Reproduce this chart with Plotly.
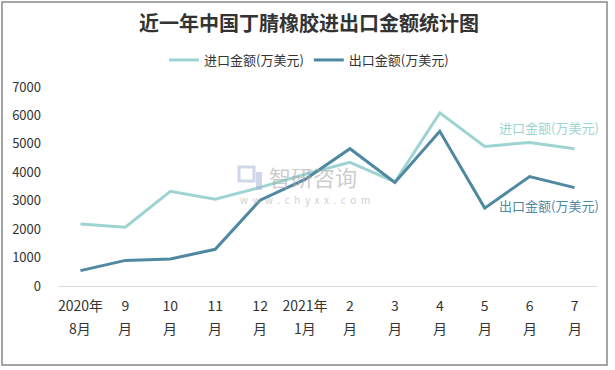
import plotly.graph_objects as go

months_top = ["2020年", "9", "10", "11", "12", "2021年", "2", "3", "4", "5", "6", "7"]
months_bottom = ["8月", "月", "月", "月", "月", "1月", "月", "月", "月", "月", "月", "月"]
categories = ["2020-08", "2020-09", "2020-10", "2020-11", "2020-12", "2021-01",
              "2021-02", "2021-03", "2021-04", "2021-05", "2021-06", "2021-07"]
import_vals = [2180, 2070, 3330, 3050, 3470, 3930, 4350, 3660, 6090, 4910, 5050, 4830]
export_vals = [540, 900, 950, 1290, 3020, 3750, 4830, 3640, 5440, 2740, 3850, 3460]
y_ticks = [0, 1000, 2000, 3000, 4000, 5000, 6000, 7000]

IMP = "#9dd4d1"
EXP = "#4f88a1"
TXT = "#333333"
FONT = "Noto Sans CJK SC"

# plot area in pixels
L, R, T, B = 58, 597, 87, 286
W, H = R - L, B - T


def px(x):
    return (x - L) / W


def py(y):
    return (B - y) / H


fig = go.Figure()
fig.add_trace(go.Scatter(x=categories, y=import_vals, mode="lines", name="进口金额(万美元)",
                         line=dict(color=IMP, width=3)))
fig.add_trace(go.Scatter(x=categories, y=export_vals, mode="lines", name="出口金额(万美元)",
                         line=dict(color=EXP, width=3)))

annotations = []
for c, b in zip(categories, months_bottom):
    annotations.append(dict(x=c, xref="x", y=py(328), yref="paper", text=b, showarrow=False,
                            font=dict(size=14, color=TXT, family=FONT), yanchor="middle"))

annotations.append(dict(x=px(497), xref="paper", y=py(127), yref="paper", text="进口金额(万美元)",
                        showarrow=False, xanchor="left", yanchor="middle",
                        font=dict(size=13, color=IMP, family=FONT)))
annotations.append(dict(x=px(497), xref="paper", y=py(205), yref="paper", text="出口金额(万美元)",
                        showarrow=False, xanchor="left", yanchor="middle",
                        font=dict(size=13, color=EXP, family=FONT)))
# watermark
annotations.append(dict(x=px(267), xref="paper", y=py(176), yref="paper", text="智研咨询",
                        showarrow=False, xanchor="left", yanchor="middle",
                        font=dict(size=22, color="rgba(170,170,170,0.6)", family=FONT)))
wm_url = "&nbsp;&nbsp;".join(list("www.chyxx.com"))
annotations.append(dict(x=px(238), xref="paper", y=py(199), yref="paper",
                        text=wm_url, showarrow=False,
                        xanchor="left", yanchor="middle",
                        font=dict(size=10, color="rgba(170,170,170,0.6)", family=FONT)))

shapes = [
    dict(type="rect", xref="paper", yref="paper", x0=px(2), x1=px(607), y0=py(365), y1=py(2),
         line=dict(color="#888888", width=1.5), fillcolor="rgba(0,0,0,0)", layer="below"),
    # watermark logo
    dict(type="rect", xref="paper", yref="paper", x0=px(239), x1=px(254), y0=py(181), y1=py(167),
         line=dict(color="rgba(160,175,210,0.5)", width=3), fillcolor="rgba(0,0,0,0)"),
    dict(type="rect", xref="paper", yref="paper", x0=px(256), x1=px(262), y0=py(190), y1=py(172),
         line=dict(width=0), fillcolor="rgba(160,175,210,0.5)"),
]

fig.update_layout(
    width=615, height=370,
    margin=dict(l=L, r=615 - R, t=T, b=370 - B),
    paper_bgcolor="white", plot_bgcolor="white",
    title=dict(text="<b>近一年中国丁腈橡胶进出口金额统计图</b>", x=309 / 615, xref="container",
               y=1 - 24 / 370, yref="container", xanchor="center", yanchor="middle",
               font=dict(size=20, color=TXT, family=FONT)),
    legend=dict(orientation="h", x=px(309), y=py(60), xanchor="center", yanchor="middle",
                font=dict(size=13, color=TXT, family=FONT), itemwidth=30, tracegroupgap=0),
    xaxis=dict(type="category", categoryorder="array", categoryarray=categories,
               tickvals=categories, ticktext=months_top, range=[-0.5, 11.5],
               showline=True, linecolor="#d9d9d9", linewidth=1, showgrid=False, ticks="",
               ticklabelstandoff=7, tickfont=dict(size=14, color=TXT, family=FONT), fixedrange=True),
    yaxis=dict(range=[0, 7000], tickvals=y_ticks, showgrid=False, zeroline=False, showline=False,
               ticks="", ticklabelstandoff=16, tickfont=dict(size=13, color=TXT, family=FONT)),
    annotations=annotations,
    shapes=shapes,
    showlegend=True,
)

fig.write_html("out.html", config={"displayModeBar": False},
               post_script="document.body.style.margin='0';document.body.style.overflow='hidden';")
